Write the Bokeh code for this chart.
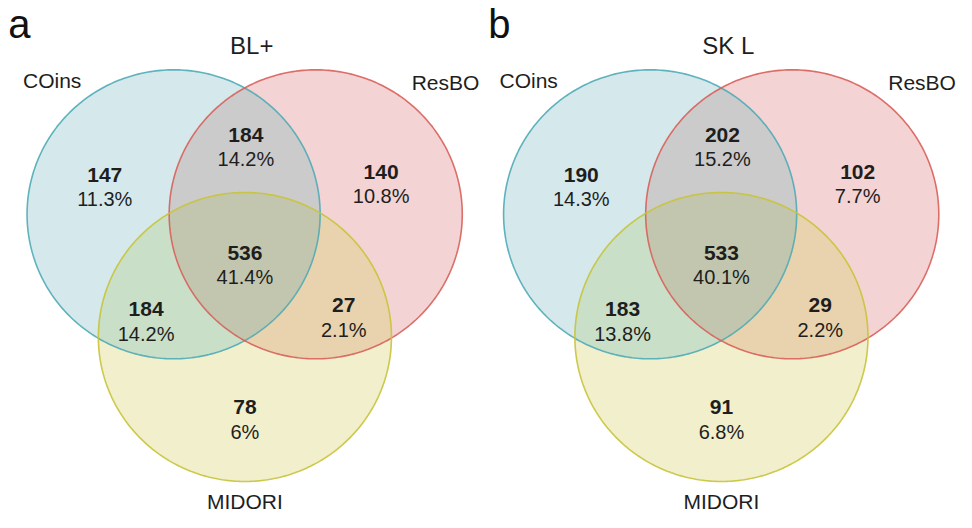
import numpy as np
from bokeh.plotting import figure
from bokeh.models import Range1d
from bokeh.embed import file_html
from bokeh.resources import INLINE
from bokeh.core.properties import value

# ---------------- data ----------------
panel_letters = ["a", "b"]
panel_titles = ["BL+", "SK L"]
set_names = ["COins", "ResBO", "MIDORI"]
region_keys = ["A", "AB", "B", "ABC", "AC", "BC", "C"]
counts_a = [147, 184, 140, 536, 184, 27, 78]
pcts_a = ["11.3%", "14.2%", "10.8%", "41.4%", "14.2%", "2.1%", "6%"]
counts_b = [190, 202, 102, 533, 183, 29, 91]
pcts_b = ["14.3%", "15.2%", "7.7%", "40.1%", "13.8%", "2.2%", "6.8%"]
panel_counts = [counts_a, counts_b]
panel_pcts = [pcts_a, pcts_b]

# ---------------- layout / style ----------------
FONT = "Liberation Sans"
TXT = "#1e1e1e"
panel_cx = [248.5, 733.0]
R = 149.0
circle_off = {"A": (-72.5, 220.5), "B": (72.0, 220.5), "C": (0.0, 347.0)}
# number positions (dx from panel centre, y of text middle)
label_off = {"A": (-142.5, 179.5), "AB": (1, 138.5), "B": (138.5, 177),
             "ABC": (0, 260.5), "AC": (-100.5, 318.5), "BC": (100.5, 314.5),
             "C": (0, 419.5)}
pct_gap = 25
set_label_off = [(-196.0, 83), (204.0, 85), (0.0, 517)]
title_off = (7.0, 46)
letter_x = [8, 496]
letter_y = 24

fills = {"A": "#d5e9ec", "B": "#f3d3d3", "C": "#f1efcc",
         "AB": "#cbcbcb", "AC": "#c9dfc8", "BC": "#e9d3ae", "ABC": "#c3c6ae"}
strokes = {"A": "#4fabb6", "B": "#d8605a", "C": "#c8c33a"}


def circ_poly(cx, cy, r, n=360):
    t = np.linspace(0, 2 * np.pi, n, endpoint=False)
    return list(zip(cx + r * np.cos(t), cy + r * np.sin(t)))


def clip(subject, clipper):
    def inside(p, a, b):
        return (b[0] - a[0]) * (p[1] - a[1]) - (b[1] - a[1]) * (p[0] - a[0]) >= 0

    def inter(s, e, a, b):
        x1, y1 = s; x2, y2 = e; x3, y3 = a; x4, y4 = b
        den = (x1 - x2) * (y3 - y4) - (y1 - y2) * (x3 - x4)
        t = ((x1 - x3) * (y3 - y4) - (y1 - y3) * (x3 - x4)) / den
        return (x1 + t * (x2 - x1), y1 + t * (y2 - y1))

    out = subject
    for i in range(len(clipper)):
        a = clipper[i - 1]; b = clipper[i]
        inp = out; out = []
        if not inp:
            break
        s = inp[-1]
        for e in inp:
            if inside(e, a, b):
                if not inside(s, a, b):
                    out.append(inter(s, e, a, b))
                out.append(e)
            elif inside(s, a, b):
                out.append(inter(s, e, a, b))
            s = e
    return out


p = figure(width=956, height=512, output_backend="svg", toolbar_location=None,
           x_range=Range1d(0, 972), y_range=Range1d(528, 0),
           min_border=0, outline_line_color=None, background_fill_color="white")
p.axis.visible = False
p.grid.visible = False

for k in range(2):
    cx0 = panel_cx[k]
    polys = {s: circ_poly(cx0 + circle_off[s][0], circle_off[s][1], R) for s in "ABC"}
    shapes = {
        "A": polys["A"], "B": polys["B"], "C": polys["C"],
        "AB": clip(polys["A"], polys["B"]),
        "AC": clip(polys["A"], polys["C"]),
        "BC": clip(polys["B"], polys["C"]),
    }
    shapes["ABC"] = clip(shapes["AB"], polys["C"])
    order = ["A", "B", "C", "AB", "AC", "BC", "ABC"]
    p.patches(xs=[[q[0] for q in shapes[o]] for o in order],
              ys=[[q[1] for q in shapes[o]] for o in order],
              fill_color=[fills[o] for o in order], line_color=None)
    p.patches(xs=[[q[0] for q in polys[s]] for s in "ABC"],
              ys=[[q[1] for q in polys[s]] for s in "ABC"],
              fill_color=None, line_color=[strokes[s] for s in "ABC"],
              line_width=1.6, line_alpha=0.9)

    counts = panel_counts[k]
    pcts = panel_pcts[k]
    xs = [cx0 + label_off[r][0] for r in region_keys]
    ys = [label_off[r][1] for r in region_keys]
    p.text(x=xs, y=ys, text=[str(c) for c in counts], text_align="center",
           text_baseline="middle", text_font=value(FONT), text_font_size="21px",
           text_font_style="bold", text_color=TXT)
    p.text(x=xs, y=[y + pct_gap for y in ys], text=pcts, text_align="center",
           text_baseline="middle", text_font=value(FONT), text_font_size="20px",
           text_color=TXT)
    p.text(x=[cx0 + o[0] for o in set_label_off], y=[o[1] for o in set_label_off],
           text=set_names, text_align="center", text_baseline="middle",
           text_font=value(FONT), text_font_size="21px", text_color=TXT)
    p.text(x=[cx0 + title_off[0]], y=[title_off[1]], text=[panel_titles[k]],
           text_align="center", text_baseline="middle", text_font=value(FONT),
           text_font_size="24px", text_color=TXT)
    p.text(x=[letter_x[k]], y=[letter_y], text=[panel_letters[k]], text_align="left",
           text_baseline="middle", text_font=value(FONT), text_font_size="40px",
           text_color="#111111")

open("out.html", "w").write(file_html(p, INLINE))
